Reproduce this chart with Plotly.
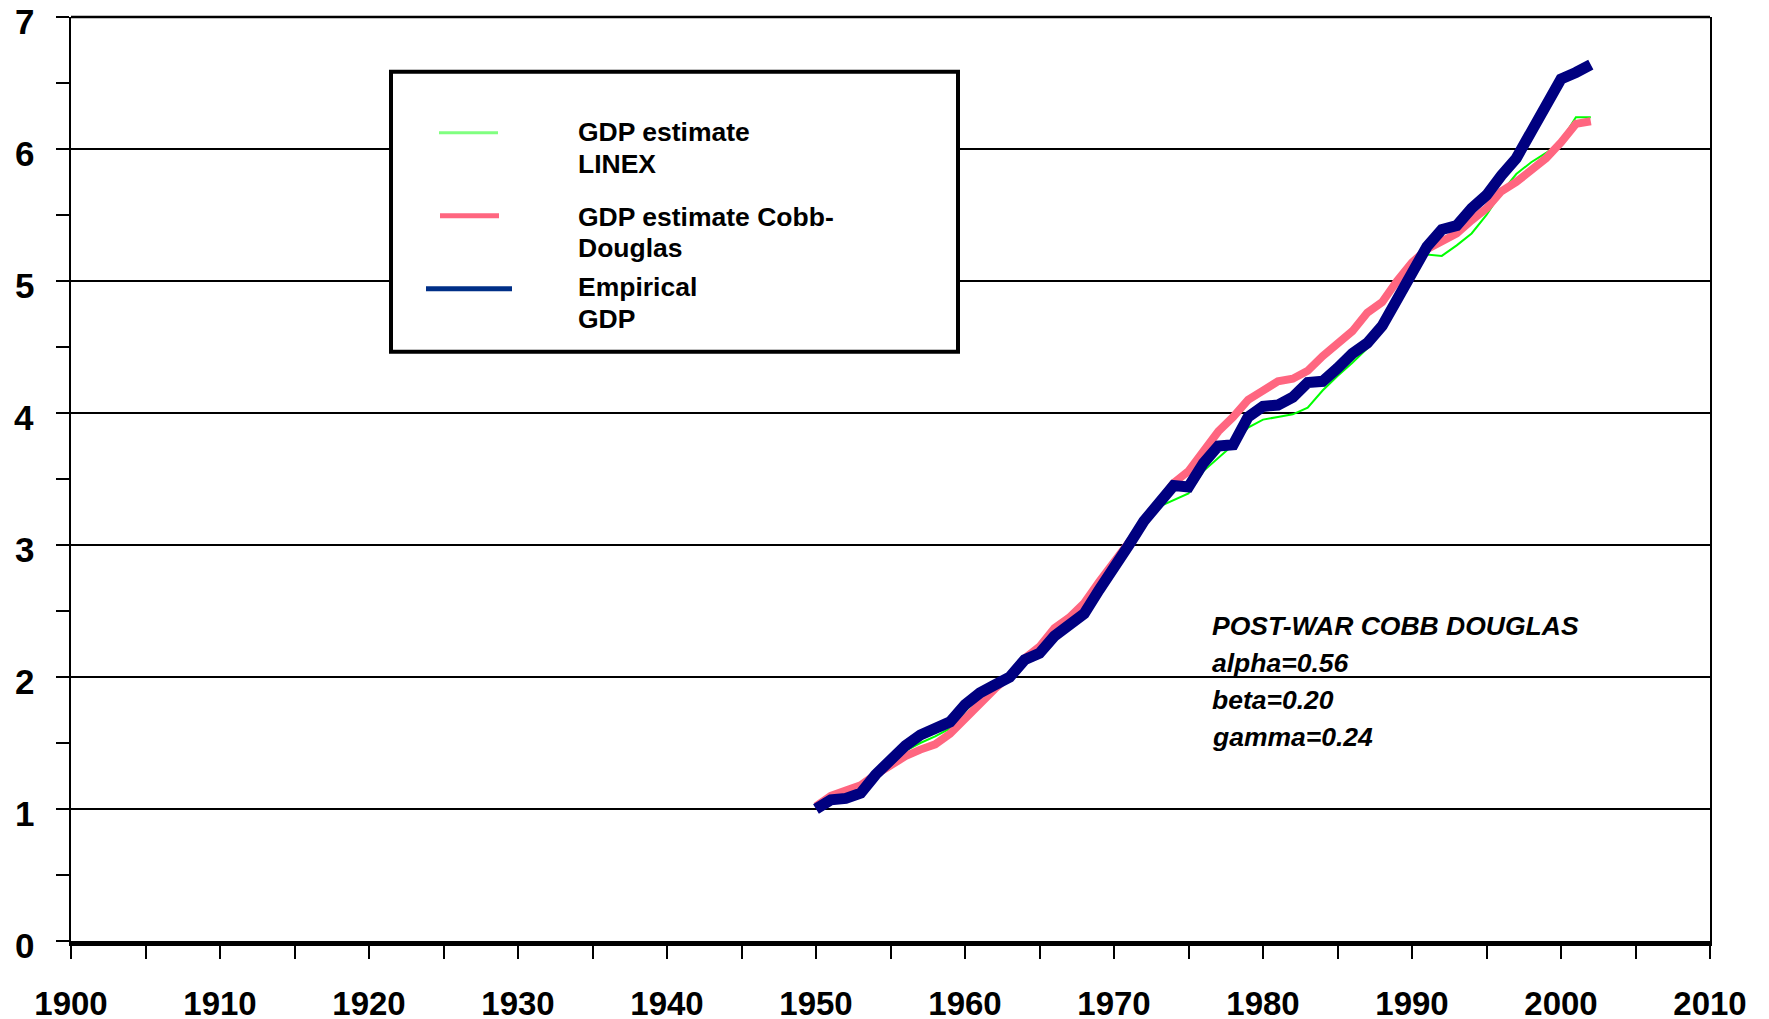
import plotly.graph_objects as go

# ─── Data (index, 1950 = 1) ───────────────────────────────────────────────────
years = list(range(1950, 2003))

gdp_empirical = [
    1.00, 1.07, 1.08, 1.12, 1.26, 1.38, 1.48, 1.56, 1.62, 1.66,
    1.79, 1.88, 1.94, 2.00, 2.13, 2.18, 2.31, 2.39, 2.48, 2.66,
    2.85, 3.00, 3.18, 3.32, 3.45, 3.44, 3.62, 3.75, 3.76, 3.97,
    4.05, 4.06, 4.12, 4.23, 4.24, 4.34, 4.45, 4.53, 4.66, 4.86,
    5.06, 5.26, 5.39, 5.42, 5.55, 5.65, 5.80, 5.93, 6.13, 6.34,
    6.53, 6.58, 6.64,
]
gdp_cobb_douglas = [
    1.02, 1.10, 1.14, 1.18, 1.26, 1.33, 1.40, 1.45, 1.49, 1.57,
    1.69, 1.81, 1.91, 2.01, 2.14, 2.23, 2.37, 2.45, 2.56, 2.72,
    2.87, 3.00, 3.16, 3.31, 3.47, 3.56, 3.70, 3.86, 3.97, 4.10,
    4.17, 4.24, 4.26, 4.32, 4.43, 4.53, 4.62, 4.76, 4.84, 5.00,
    5.14, 5.24, 5.30, 5.36, 5.46, 5.55, 5.68, 5.75, 5.84, 5.93,
    6.05, 6.19, 6.21,
]
gdp_linex = [
    1.02, 1.09, 1.12, 1.16, 1.26, 1.35, 1.44, 1.50, 1.55, 1.61,
    1.74, 1.85, 1.93, 2.00, 2.13, 2.20, 2.34, 2.42, 2.52, 2.69,
    2.86, 3.00, 3.16, 3.29, 3.34, 3.39, 3.56, 3.66, 3.76, 3.89,
    3.95, 3.97, 3.99, 4.04, 4.17, 4.28, 4.38, 4.49, 4.64, 4.85,
    5.05, 5.20, 5.19, 5.27, 5.36, 5.50, 5.67, 5.81, 5.90, 5.97,
    6.06, 6.24, 6.24,
]

y_ticks = [0, 1, 2, 3, 4, 5, 6, 7]

legend_lines = [
    ["GDP estimate", "LINEX"],
    ["GDP estimate Cobb-", "Douglas"],
    ["Empirical", "GDP"],
]
cd_text = ["POST-WAR COBB DOUGLAS", "alpha=0.56", "beta=0.20", "gamma=0.24"]

# ─── Styling ──────────────────────────────────────────────────────────────────
W, H = 1769, 1019
BODY = 8                      # default page margin around the plot div
# plot area as seen on screen
X0, X1, Y0, Y1 = 71, 1710, 17.3, 941.5
FONT = "Arial, Liberation Sans, sans-serif"


def px(x):   # screen pixel -> paper x
    return (x - X0) / (X1 - X0)


def py(y):   # screen pixel -> paper y
    return (Y1 - y) / (Y1 - Y0)


fig = go.Figure()

fig.add_trace(go.Scatter(x=years, y=gdp_linex, mode="lines",
                         line=dict(color="#00FF00", width=2), name="LINEX"))
fig.add_trace(go.Scatter(x=years, y=gdp_cobb_douglas, mode="lines",
                         line=dict(color="#FF6680", width=8), name="Cobb-Douglas"))
fig.add_trace(go.Scatter(x=years, y=gdp_empirical, mode="lines",
                         line=dict(color="#000080", width=11), name="Empirical"))

# ─── Legend box drawn by hand ─────────────────────────────────────────────────
shapes = [
    dict(type="rect", xref="paper", yref="paper",
         x0=px(391), x1=px(958), y0=py(352), y1=py(72),
         line=dict(color="black", width=4), fillcolor="white", layer="above"),
    dict(type="line", xref="paper", yref="paper", x0=0, x1=1, y0=1, y1=1,
         line=dict(color="black", width=2.5)),
]
samples = [  # x0, x1, y, width, colour
    (439, 498, 133, 3, "#80FF80"),
    (440, 499, 216, 5, "#FF6680"),
    (426, 512, 289, 5, "#002F87"),
]
for x0, x1, y, w, c in samples:
    shapes.append(dict(type="line", xref="paper", yref="paper",
                       x0=px(x0), x1=px(x1), y0=py(y), y1=py(y),
                       line=dict(color=c, width=w), layer="above"))

annotations = []
text_rows = [132, 164, 217, 248, 287, 319]
flat = [t for pair in legend_lines for t in pair]
for txt, y in zip(flat, text_rows):
    annotations.append(dict(
        text=f"<b>{txt}</b>", xref="paper", yref="paper",
        x=px(576), y=py(y), xanchor="left", yanchor="middle",
        showarrow=False, font=dict(family=FONT, size=26.5, color="black"),
    ))

for txt, y in zip(cd_text, [626, 663, 700, 737]):
    annotations.append(dict(
        text=f"<b><i>{txt}</i></b>", xref="paper", yref="paper",
        x=px(1210), y=py(y), xanchor="left", yanchor="middle",
        showarrow=False, font=dict(family=FONT, size=26.5, color="black"),
    ))

# y tick labels as annotations (sit a little below their ticks, top one unclipped)
for v in y_ticks:
    annotations.append(dict(
        text=f"<b>{v}</b>", xref="paper", yref="y", x=0, y=v,
        xanchor="right", yanchor="middle", xshift=-35, yshift=-4,
        showarrow=False, font=dict(family=FONT, size=35, color="black"),
    ))

fig.update_layout(
    width=W, height=H,
    margin=dict(l=X0 - BODY, r=W - X1 + BODY, t=Y0 - BODY, b=H - Y1 + BODY,
                autoexpand=False),
    paper_bgcolor="white",
    plot_bgcolor="white",
    showlegend=False,
    shapes=shapes,
    annotations=annotations,
    xaxis=dict(
        range=[1900, 2010], tick0=1900, dtick=10, automargin=False,
        showgrid=False, zeroline=False,
        showline=True, linecolor="black", linewidth=5,
        ticks="outside", ticklen=13, tickwidth=2, tickcolor="black",
        minor=dict(dtick=5, tick0=1900, ticks="outside", ticklen=13,
                   tickwidth=2, tickcolor="black", showgrid=False),
        tickfont=dict(family=FONT, size=33, color="black", weight="bold"),
        ticklabelstandoff=16, ticklabeloverflow="allow",
    ),
    yaxis=dict(
        range=[0, 7], tick0=0, dtick=1, automargin=False,
        showgrid=True, gridcolor="black", gridwidth=2,
        zeroline=False, showticklabels=False,
        showline=True, linecolor="black", linewidth=2, mirror=True,
        ticks="outside", ticklen=13, tickwidth=2, tickcolor="black",
        minor=dict(dtick=0.5, ticks="outside", ticklen=13,
                   tickwidth=2, tickcolor="black", showgrid=False),
    ),
)

fig.write_html("out.html")
